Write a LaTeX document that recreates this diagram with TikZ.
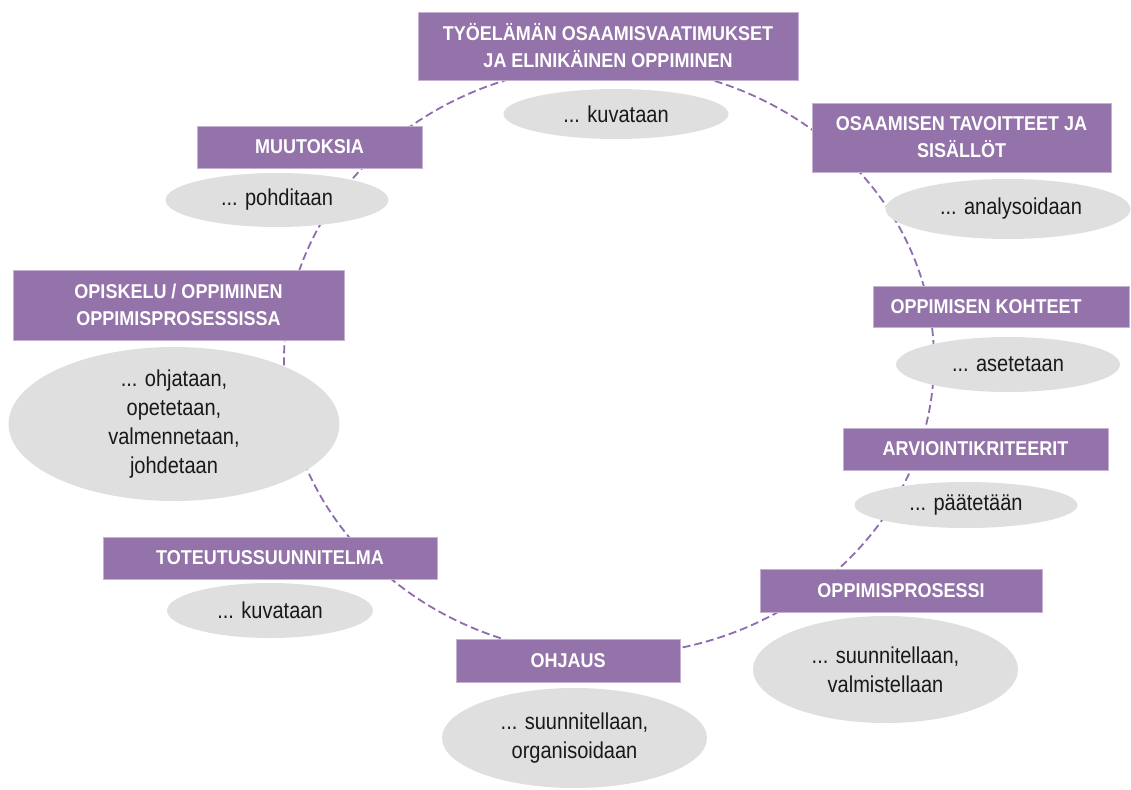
\documentclass[tikz,border=0pt]{standalone}
\usepackage{fontspec}
\setmainfont{Liberation Sans}
\newfontfamily\boxfont[FakeStretch=0.9]{Liberation Sans}
\newfontfamily\bodyfont[FakeStretch=0.87]{Liberation Sans}
\usetikzlibrary{shapes.geometric}
\definecolor{boxpurple}{RGB}{148,115,170}
\definecolor{dashpurple}{RGB}{142,108,176}
\definecolor{bubgray}{RGB}{223,223,223}
\definecolor{bodyink}{RGB}{25,25,25}
\tikzset{
  pbox/.style={rectangle, fill=boxpurple, draw=boxpurple!55!white, line width=0.8pt,
    text=white, font=\boxfont\bfseries\fontsize{20}{27}\selectfont, align=center, inner sep=0pt},
  bub/.style={ellipse, fill=bubgray, draw=none, inner sep=0pt},
  btext/.style={text=bodyink, font=\bodyfont\fontsize{23}{29}\selectfont, align=center, inner sep=0pt},
  ring/.style={draw=dashpurple, line width=1.8pt, dash pattern=on 8pt off 4pt}
}
\begin{document}
\begin{tikzpicture}[x=1pt,y=-1pt]
\useasboundingbox (0,0) rectangle (1131,789);
% dashed cycle
\draw[ring] (609,360) ellipse [x radius=325pt, y radius=295pt];

% bubbles
\node[bub, minimum width=225pt, minimum height=50pt] (e1) at (616,114) {};
\node[btext] (t1) at (e1) {... kuvataan};
\node[bub, minimum width=223pt, minimum height=54pt] (e2) at (277,200) {};
\node[btext] (t2) at (e2) {... pohditaan};
\node[bub, minimum width=331pt, minimum height=154pt] (e3) at (174,424) {};
\node[btext] (t3) at (e3) {... ohjataan,\\opetetaan,\\valmennetaan,\\johdetaan};
\node[bub, minimum width=245pt, minimum height=60pt] (e4) at (1008,209) {};
\node[btext] (t4) at (1011,209) {... analysoidaan};
\node[bub, minimum width=224pt, minimum height=55pt] (e5) at (1008,364.5) {};
\node[btext] (t5) at (e5) {... asetetaan};
\node[bub, minimum width=223pt, minimum height=46pt] (e6) at (966,505) {};
\node[btext] (t6) at (e6) {... päätetään};
\node[bub, minimum width=265pt, minimum height=107pt] (e7) at (885.5,669.5) {};
\node[btext] (t7) at (e7) {... suunnitellaan,\\valmistellaan};
\node[bub, minimum width=265pt, minimum height=100pt] (e8) at (574.5,738) {};
\node[btext] (t8) at (e8) {... suunnitellaan,\\organisoidaan};
\node[bub, minimum width=206pt, minimum height=55pt] (e9) at (270,610.5) {};
\node[btext] (t9) at (e9) {... kuvataan};

% boxes
\node[pbox, minimum width=380pt, minimum height=68pt] (b1) at (608,46) {TYÖELÄMÄN OSAAMISVAATIMUKSET\\JA ELINIKÄINEN OPPIMINEN};
\node[pbox, minimum width=225pt, minimum height=42pt] (b2) at (309.5,147) {MUUTOKSIA};
\node[pbox, minimum width=331pt, minimum height=70pt] (b3) at (178.5,305) {OPISKELU / OPPIMINEN\\OPPIMISPROSESSISSA};
\node[pbox, minimum width=299pt, minimum height=69pt] (b4) at (961.5,137.5) {OSAAMISEN TAVOITTEET JA\\SISÄLLÖT};
\node[pbox, minimum width=256pt, minimum height=41pt] (b5) at (1001,306.5) {\hspace*{-30pt}OPPIMISEN KOHTEET};
\node[pbox, minimum width=265pt, minimum height=42pt] (b6) at (975.5,449) {ARVIOINTIKRITEERIT};
\node[pbox, minimum width=282pt, minimum height=43pt] (b7) at (901,590.5) {OPPIMISPROSESSI};
\node[pbox, minimum width=224pt, minimum height=43pt] (b8) at (568,660.5) {OHJAUS};
\node[pbox, minimum width=334pt, minimum height=42pt] (b9) at (270,558) {TOTEUTUSSUUNNITELMA};
\end{tikzpicture}
\end{document}
